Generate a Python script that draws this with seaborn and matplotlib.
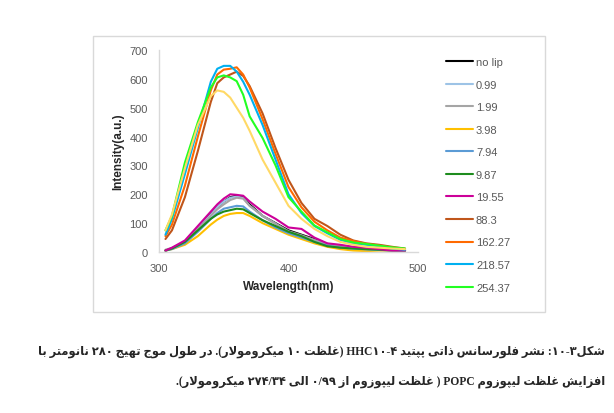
import matplotlib
matplotlib.use('Agg')
import matplotlib.pyplot as plt
import matplotlib.patches as patches
import seaborn as sns
import pandas as pd

# wavelength (nm) and intensity readings for each liposome concentration
wavelength = [305, 310, 320, 330, 340, 345, 350, 355, 360, 365, 370, 380,
              390, 400, 410, 420, 430, 440, 450, 460, 470, 480, 490]

no_lip = [5, 12, 35, 85, 135, 155, 175, 190, 195, 190, 165, 125, 100, 75, 60, 45, 28, 20, 15, 10, 8, 5, 5]
c_0_99 = [5, 12, 35, 85, 130, 155, 175, 188, 192, 188, 160, 125, 98, 70, 55, 40, 25, 18, 14, 10, 8, 5, 4]
c_1_99 = [8, 14, 35, 80, 125, 148, 165, 180, 188, 185, 160, 125, 98, 72, 58, 42, 28, 20, 15, 10, 8, 6, 5]
c_3_98 = [5, 10, 25, 55, 95, 112, 125, 132, 135, 135, 125, 100, 80, 60, 45, 30, 18, 10, 5, 3, 5, 5, 3]
c_7_94 = [5, 10, 30, 70, 115, 135, 150, 155, 160, 158, 140, 110, 85, 65, 50, 35, 22, 15, 12, 9, 7, 5, 4]
c_9_87 = [5, 12, 35, 75, 115, 130, 140, 145, 150, 148, 135, 110, 90, 70, 55, 35, 20, 15, 12, 10, 8, 6, 5]
c_19_55 = [5, 15, 40, 90, 140, 165, 185, 200, 198, 195, 175, 140, 115, 85, 80, 50, 30, 25, 18, 15, 10, 5, 5]
c_88_3 = [45, 75, 190, 350, 520, 585, 605, 615, 625, 610, 575, 480, 360, 250, 170, 115, 90, 60, 40, 30, 25, 18, 12]
c_162_27 = [55, 95, 230, 400, 560, 615, 632, 635, 640, 615, 570, 460, 340, 225, 155, 105, 75, 50, 38, 28, 22, 15, 10]
c_218_57 = [60, 115, 270, 430, 590, 635, 645, 645, 625, 590, 545, 440, 320, 200, 135, 90, 65, 42, 30, 25, 20, 12, 8]
c_254_37 = [75, 125, 310, 450, 570, 605, 612, 605, 592, 545, 470, 395, 300, 190, 140, 92, 68, 45, 33, 28, 22, 16, 12]
# series whose legend entry is cut off in the original chart
c_extra = [75, 130, 290, 440, 540, 560, 555, 535, 500, 465, 420, 320, 240, 160, 115, 80, 55, 35, 25, 18, 15, 12, 10]

labels = ['no lip', '0.99', '1.99', '3.98', '7.94', '9.87', '19.55',
          '88.3', '162.27', '218.57', '254.37', 'extra']
series = [no_lip, c_0_99, c_1_99, c_3_98, c_7_94, c_9_87, c_19_55,
          c_88_3, c_162_27, c_218_57, c_254_37, c_extra]
colors = ['#000000', '#9DC3E6', '#A5A5A5', '#FFC000', '#5B9BD5', '#1E8C1E',
          '#CC0099', '#C0561B', '#FF6A00', '#00B0F0', '#22FF22', '#FFD966']

# ---- minimal Persian shaping (presentation forms) ----
FORMS = {
    'ا': ('\uFE8D', '\uFE8E'),
    'ب': ('\uFE8F', '\uFE90', '\uFE91', '\uFE92'),
    'پ': ('\uFB56', '\uFB57', '\uFB58', '\uFB59'),
    'ت': ('\uFE95', '\uFE96', '\uFE97', '\uFE98'),
    'ج': ('\uFE9D', '\uFE9E', '\uFE9F', '\uFEA0'),
    'د': ('\uFEA9', '\uFEAA'),
    'ذ': ('\uFEAB', '\uFEAC'),
    'ر': ('\uFEAD', '\uFEAE'),
    'ز': ('\uFEAF', '\uFEB0'),
    'س': ('\uFEB1', '\uFEB2', '\uFEB3', '\uFEB4'),
    'ش': ('\uFEB5', '\uFEB6', '\uFEB7', '\uFEB8'),
    'ط': ('\uFEC1', '\uFEC2', '\uFEC3', '\uFEC4'),
    'ظ': ('\uFEC5', '\uFEC6', '\uFEC7', '\uFEC8'),
    'غ': ('\uFECD', '\uFECE', '\uFECF', '\uFED0'),
    'ف': ('\uFED1', '\uFED2', '\uFED3', '\uFED4'),
    'ک': ('\uFB8E', '\uFB8F', '\uFB90', '\uFB91'),
    'ل': ('\uFEDD', '\uFEDE', '\uFEDF', '\uFEE0'),
    'م': ('\uFEE1', '\uFEE2', '\uFEE3', '\uFEE4'),
    'ن': ('\uFEE5', '\uFEE6', '\uFEE7', '\uFEE8'),
    'ه': ('\uFEE9', '\uFEEA', '\uFEEB', '\uFEEC'),
    'و': ('\uFEED', '\uFEEE'),
    'ی': ('\uFBFC', '\uFBFD', '\uFBFE', '\uFBFF'),
}
MIRROR = {'(': ')', ')': '('}


def shape(word):
    out = []
    i = 0
    n = len(word)
    while i < n:
        c = word[i]
        if c not in FORMS:
            out.append(c)
            i += 1
            continue
        prev = word[i - 1] if i > 0 else None
        jp = prev in FORMS and len(FORMS[prev]) == 4
        if c == 'ل' and i + 1 < n and word[i + 1] == 'ا':
            out.append('\uFEFC' if jp else '\uFEFB')
            i += 2
            continue
        nxt = word[i + 1] if i + 1 < n else None
        jn = len(FORMS[c]) == 4 and nxt in FORMS
        f = FORMS[c]
        if jp and jn:
            out.append(f[3])
        elif jp:
            out.append(f[1])
        elif jn:
            out.append(f[2])
        else:
            out.append(f[0])
        i += 1
    return out


def visual(tokens):
    parts = []
    for kind, txt in reversed(tokens):
        if kind == 'r':
            parts.append(''.join(MIRROR.get(ch, ch) for ch in reversed(shape(txt))))
        else:
            parts.append(txt)
    return ''.join(parts)


caption1 = [('r', 'شکل'), ('l', '۳'), ('r', '-'), ('l', '۱۰'),
            ('r', ': نشر فلورسانس ذاتی پپتید '), ('l', 'HHC۱۰-۴'),
            ('r', ' (غلظت '), ('l', '۱۰'),
            ('r', ' میکرومولار). در طول موج تهیج '), ('l', '۲۸۰'),
            ('r', ' نانومتر با')]
caption2 = [('r', 'افزایش غلظت لیپوزوم '), ('l', 'POPC'),
            ('r', ' ( غلظت لیپوزوم از '), ('l', '۰/۹۹'), ('r', ' الی '),
            ('l', '۲۷۴/۳۴'), ('r', ' میکرومولار).')]

sns.set_style('white')
plt.rcParams['font.family'] = ['Liberation Sans', 'DejaVu Sans']

fig = plt.figure(figsize=(6.14, 4.14), dpi=100)
fig.patch.set_facecolor('white')

# chart frame
fig.patches.append(patches.Rectangle((93 / 614, 1 - 313 / 414), 452 / 614, 276 / 414,
                                     transform=fig.transFigure, fill=False,
                                     edgecolor='#d9d9d9', linewidth=1))

ax = fig.add_axes([159 / 614, 1 - 253 / 414, 259 / 614, 202 / 414])

for name, vals, col in zip(labels, series, colors):
    df = pd.DataFrame({'wl': wavelength, 'I': vals})
    sns.lineplot(data=df, x='wl', y='I', color=col, linewidth=1.5, ax=ax, label=name)

ax.set_xlim(300, 500)
ax.set_ylim(0, 700)
ax.set_xticks([300, 400, 500])
ax.set_yticks(range(0, 701, 100))
ax.tick_params(length=0, labelsize=8, labelcolor='#595959', pad=8)
for s in ['top', 'right']:
    ax.spines[s].set_visible(False)
for s in ['left', 'bottom']:
    ax.spines[s].set_color('#d9d9d9')
    ax.spines[s].set_linewidth(1)
ax.set_xlabel('Wavelength(nm)', fontsize=8.5, fontweight='bold', labelpad=5)
ax.set_ylabel('Intensity(a.u.)', fontsize=8.5, fontweight='bold', labelpad=4)

h, l = ax.get_legend_handles_labels()
ax.legend_.remove()
fig.legend(h[:11], l[:11], loc='upper left', bbox_to_anchor=(446 / 614, 1 - 58 / 414),
           frameon=False, fontsize=8, labelcolor='#595959', borderpad=0,
           borderaxespad=0, labelspacing=1.13, handlelength=2.4, handletextpad=0.3)

cap_font = ['Liberation Serif', 'DejaVu Sans']
fig.text(605 / 614, 1 - 352 / 414, visual(caption1), ha='right', va='center',
         fontsize=8.3, fontweight='bold', family=cap_font)
fig.text(605 / 614, 1 - 382 / 414, visual(caption2), ha='right', va='center',
         fontsize=8.3, fontweight='bold', family=cap_font)

fig.savefig('out.png', dpi=100)
